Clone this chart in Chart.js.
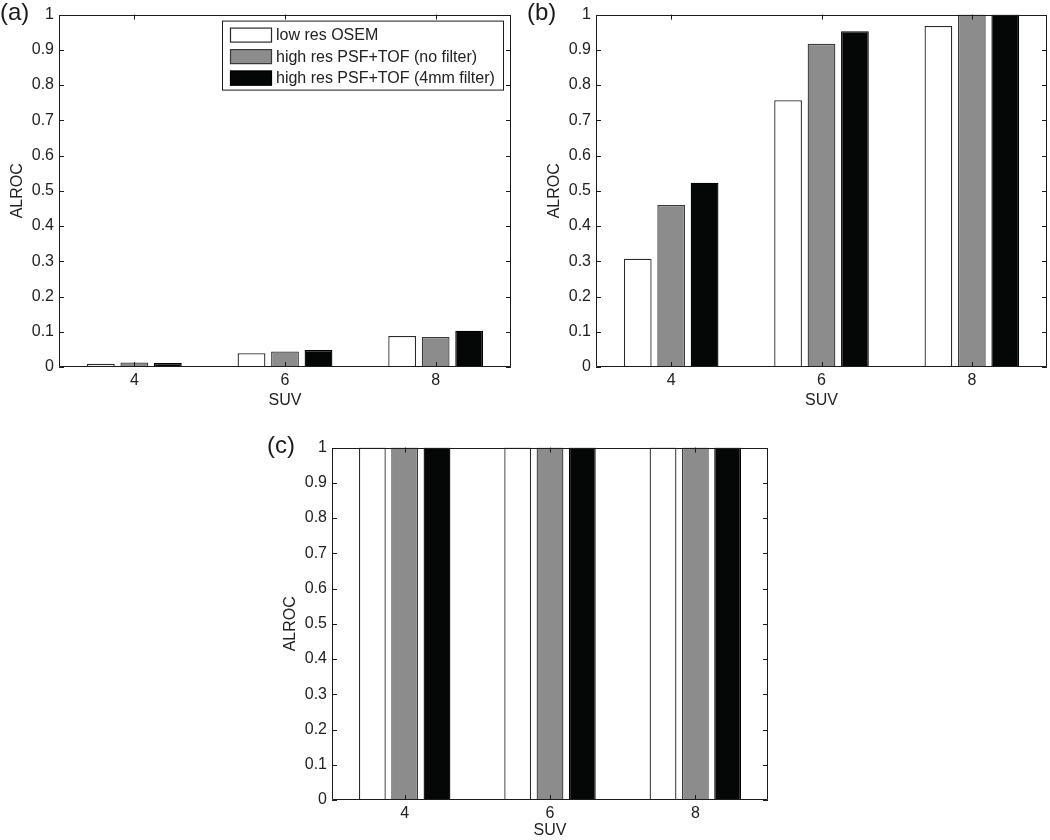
<!DOCTYPE html>
<html>
<head>
<meta charset="utf-8">
<script src="https://cdn.jsdelivr.net/npm/chart.js@4.4.1/dist/chart.umd.min.js"></script>
<style>
  body { margin: 0; background: #fff; width: 1050px; height: 840px; position: relative; overflow: hidden; font-family: "Liberation Sans", Arial, sans-serif; }
  canvas { position: absolute; }
  .tag { position: absolute; font-size: 24px; line-height: 1; color: #1a1a1a; }
</style>
</head>
<body>
<canvas id="chartA" width="520" height="412" style="left:0;top:0"></canvas>
<canvas id="chartB" width="513" height="412" style="left:537px;top:0"></canvas>
<canvas id="chartC" width="504" height="407" style="left:273px;top:433px"></canvas>
<div class="tag" style="left:0;top:0">(a)</div>
<div class="tag" style="left:527px;top:0">(b)</div>
<div class="tag" style="left:267px;top:433px">(c)</div>
<script>
const suv = ['4', '6', '8'];
const seriesNames = ['low res OSEM', 'high res PSF+TOF (no filter)', 'high res PSF+TOF (4mm filter)'];

// panel (a)
const aOsem     = [0.009, 0.039, 0.088];
const aNoFilter = [0.013, 0.044, 0.085];
const aFilter   = [0.011, 0.048, 0.103];

// panel (b)
const bOsem     = [0.307, 0.757, 0.968];
const bNoFilter = [0.460, 0.917, 1.000];
const bFilter   = [0.523, 0.953, 1.000];

// panel (c)
const cOsem     = [1, 1, 1];
const cNoFilter = [1, 1, 1];
const cFilter   = [1, 1, 1];

const yTicks = [0, 0.1, 0.2, 0.3, 0.4, 0.5, 0.6, 0.7, 0.8, 0.9, 1];
const yTickLabels = ['0', '0.1', '0.2', '0.3', '0.4', '0.5', '0.6', '0.7', '0.8', '0.9', '1'];

const fills = ['#ffffff', '#8c8c8c', '#050707'];
const edges = ['#2a2a2a', '#3a3a3a', '#000000'];
const FONT = '"Liberation Sans", Arial, sans-serif';
const INK = '#222';

// matlab style box with inward ticks
const frame = {
  id: 'frame',
  afterDatasetsDraw(chart) {
    const { ctx, chartArea: a, scales: { x, y } } = chart;
    ctx.save();
    ctx.strokeStyle = '#1c1c1c';
    ctx.lineWidth = 1;
    ctx.beginPath();
    ctx.rect(Math.round(a.left) + 0.5, Math.round(a.top) + 0.5, Math.round(a.right - a.left) - 1, Math.round(a.bottom - a.top) - 1);
    y.ticks.forEach(t => {
      const py = Math.round(y.getPixelForValue(t.value)) + 0.5;
      ctx.moveTo(a.left, py); ctx.lineTo(a.left + 5, py);
      ctx.moveTo(a.right, py); ctx.lineTo(a.right - 5, py);
    });
    x.ticks.forEach((t, i) => {
      const px = Math.round(x.getPixelForTick(i)) + 0.5;
      ctx.moveTo(px, a.top); ctx.lineTo(px, a.top + 5);
      ctx.moveTo(px, a.bottom); ctx.lineTo(px, a.bottom - 5);
    });
    ctx.stroke();
    ctx.restore();
  }
};

const boxLegend = {
  id: 'boxLegend',
  afterDraw(chart, args, opts) {
    if (!opts.show) return;
    const { ctx, chartArea: a } = chart;
    const w = 281, h = 69;
    const left = a.right - 8 - w, top = a.top + 6;
    ctx.save();
    ctx.fillStyle = '#fff';
    ctx.fillRect(left, top, w, h);
    ctx.strokeStyle = '#1c1c1c';
    ctx.lineWidth = 1;
    ctx.strokeRect(left + 0.5, top + 0.5, w, h);
    ctx.font = '16px ' + FONT;
    ctx.textBaseline = 'middle';
    chart.data.datasets.forEach((ds, i) => {
      const cy = top + 14 + i * 21.5;
      ctx.fillStyle = ds.backgroundColor;
      ctx.fillRect(left + 8, cy - 7, 42, 15);
      ctx.strokeStyle = ds.borderColor;
      ctx.lineWidth = 1.2;
      ctx.strokeRect(left + 8.5, cy - 6.5, 41, 14);
      ctx.fillStyle = INK;
      ctx.fillText(ds.label, left + 54, cy + 1);
    });
    ctx.restore();
  }
};

function makePanel(id, osem, noFilter, filter, showLegend, padRight) {
  const values = [osem, noFilter, filter];
  const isC = id === 'chartC';
  new Chart(document.getElementById(id), {
    type: 'bar',
    data: {
      labels: suv,
      datasets: seriesNames.map((name, i) => ({
        label: name,
        data: values[i],
        backgroundColor: fills[i],
        borderColor: edges[i],
        borderWidth: 1.3,
        categoryPercentage: 0.667,
        barPercentage: 0.83
      }))
    },
    options: {
      responsive: false,
      animation: false,
      devicePixelRatio: 1,
      layout: { padding: { left: 0, right: padRight, top: 13, bottom: 0 } },
      plugins: {
        legend: { display: false },
        tooltip: { enabled: false },
        boxLegend: { show: showLegend }
      },
      scales: {
        x: {
          grid: { display: false, drawTicks: false },
          border: { display: false },
          ticks: { color: INK, font: { family: FONT, size: 16 }, padding: 4, maxRotation: 0 },
          title: { display: true, text: 'SUV', color: INK, font: { family: FONT, size: 16 }, padding: { top: 0, bottom: isC ? 0 : 2 } },
          afterFit: s => { s.height = isC ? 40 : 45; }
        },
        y: {
          min: 0,
          max: 1,
          grid: { display: false, drawTicks: false },
          border: { display: false },
          afterBuildTicks: s => { s.ticks = yTicks.map(v => ({ value: v })); },
          ticks: { color: INK, font: { family: FONT, size: 16 }, padding: 5, callback: (v, i) => yTickLabels[i] },
          title: { display: true, text: 'ALROC', color: INK, font: { family: FONT, size: 16 }, padding: { top: 8, bottom: 0 } },
          afterFit: s => { s.width = 59; }
        }
      }
    },
    plugins: [frame, boxLegend]
  });
}

makePanel('chartA', aOsem, aNoFilter, aFilter, true, 9);
makePanel('chartB', bOsem, bNoFilter, bFilter, false, 3);
makePanel('chartC', cOsem, cNoFilter, cFilter, false, 9);
</script>
</body>
</html>
